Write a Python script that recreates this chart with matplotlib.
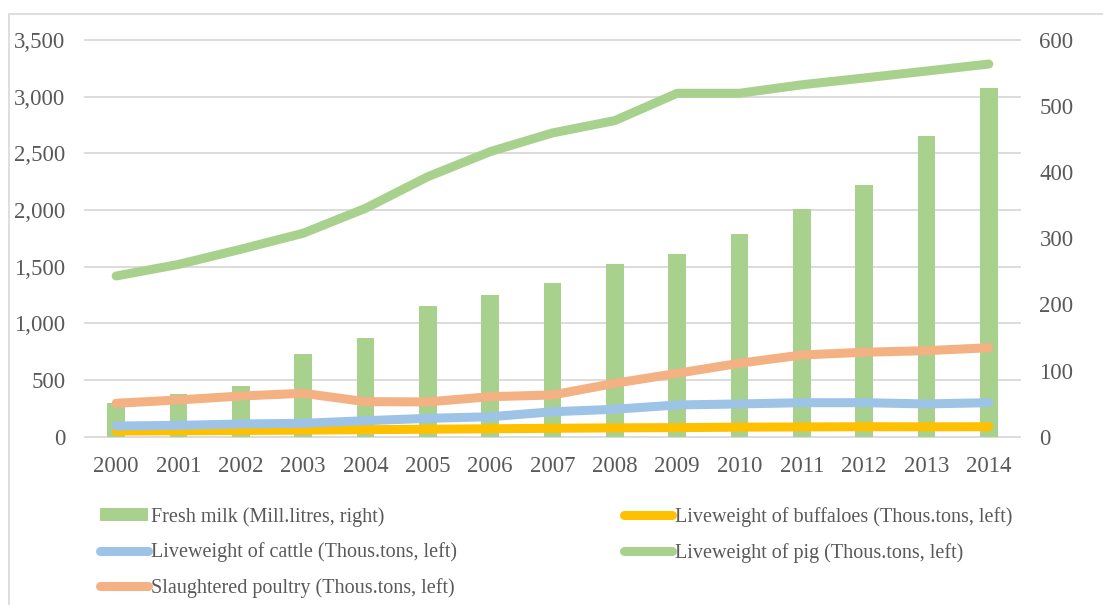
import matplotlib
matplotlib.use("Agg")
import matplotlib.pyplot as plt
from matplotlib.transforms import blended_transform_factory
from matplotlib.patches import Rectangle, Patch
from matplotlib.lines import Line2D
from matplotlib.ticker import FuncFormatter

# ---- data -------------------------------------------------------------
years = ["2000", "2001", "2002", "2003", "2004", "2005", "2006", "2007",
         "2008", "2009", "2010", "2011", "2012", "2013", "2014"]

fresh_milk = [51, 64, 77, 125, 150, 197, 215, 233, 261, 277, 306, 344, 381, 455, 527]
buffaloes = [50, 52, 55, 58, 62, 66, 70, 74, 78, 80, 84, 86, 88, 87, 88]
cattle = [94, 100, 112, 118, 141, 162, 176, 220, 242, 280, 289, 300, 300, 289, 300]
pig = [1418, 1520, 1654, 1795, 2015, 2294, 2515, 2680, 2789, 3030, 3030, 3105, 3165, 3226, 3288]
poultry = [295, 324, 359, 383, 309, 307, 353, 368, 471, 559, 648, 721, 745, 759, 785]

left_ticks = [0, 500, 1000, 1500, 2000, 2500, 3000, 3500]
right_ticks = [0, 100, 200, 300, 400, 500, 600]

labels = ["Fresh milk (Mill.litres, right)",
          "Liveweight of buffaloes (Thous.tons, left)",
          "Liveweight of cattle (Thous.tons, left)",
          "Liveweight of pig (Thous.tons, left)",
          "Slaughtered poultry (Thous.tons, left)"]

# ---- style ------------------------------------------------------------
GREEN = "#A9D18E"
YELLOW = "#FFC000"
BLUE = "#9DC3E6"
ORANGE = "#F4B183"
GRID = "#D9D9D9"
TEXT = "#595959"
FONT = "Liberation Serif"

plt.rcParams["font.family"] = [FONT, "DejaVu Serif"]
plt.rcParams["text.color"] = TEXT

fig = plt.figure(figsize=(11.03, 6.05), dpi=100)

# chart frame
fig.patches.append(Rectangle((9 / 1103, -0.1), 1.2, (605 - 14) / 605 + 0.1,
                             transform=fig.transFigure, fill=False,
                             edgecolor=GRID, linewidth=1.2))

rect = [85 / 1103, 1 - 436.7 / 605, 935 / 1103, (436.7 - 40) / 605]

# bars on the lower axes (right-hand scale)
ax_bar = fig.add_axes(rect)
# lines on the upper axes (left-hand scale)
ax_line = ax_bar.twinx()

x = list(range(len(years)))

ax_bar.bar(x, fresh_milk, width=0.28, color=GREEN, zorder=2)
ax_bar.set_ylim(0, 600)
ax_bar.set_xlim(-0.5, len(years) - 0.5)

ax_line.set_ylim(0, 3500)

# horizontal gridlines follow the left scale but sit beneath the bars
gtrans = blended_transform_factory(ax_bar.transAxes, ax_line.transData)
for v in left_ticks:
    ax_bar.plot([0, 1], [v, v], transform=gtrans, color=GRID,
                linewidth=1.3, zorder=1, clip_on=False)

lw = 6.5
line_kw = dict(linewidth=lw, solid_capstyle="round", solid_joinstyle="round")
ax_line.plot(x, buffaloes, color=YELLOW, **line_kw)
ax_line.plot(x, cattle, color=BLUE, **line_kw)
ax_line.plot(x, pig, color=GREEN, **line_kw)
ax_line.plot(x, poultry, color=ORANGE, **line_kw)

# axes cosmetics
for a in (ax_bar, ax_line):
    for s in a.spines.values():
        s.set_visible(False)
    a.tick_params(length=0, labelsize=16.5, labelcolor=TEXT, pad=14)

ax_bar.set_xticks(x)
ax_bar.set_xticklabels(years)
ax_bar.yaxis.tick_right()
ax_bar.set_yticks(right_ticks)
ax_line.yaxis.tick_left()
ax_line.set_yticks(left_ticks)
ax_line.yaxis.set_major_formatter(FuncFormatter(lambda v, p: f"{int(v):,}"))
ax_bar.tick_params(axis="x", pad=14)
ax_bar.patch.set_visible(False)

# legend: two columns laid out row by row
def handle(color, kind):
    if kind == "bar":
        return Patch(facecolor=color, edgecolor="none")
    return Line2D([], [], color=color, linewidth=lw, solid_capstyle="round")

h_milk = handle(GREEN, "bar")
h_buf = handle(YELLOW, "line")
h_cat = handle(BLUE, "line")
h_pig = handle(GREEN, "line")
h_pou = handle(ORANGE, "line")

leg_kw = dict(frameon=False, fontsize=14.5, loc="upper left", borderpad=0,
              borderaxespad=0, handlelength=2.4, handleheight=0.6,
              handletextpad=0.15, labelspacing=0.78,
              bbox_transform=fig.transFigure)
leg1 = fig.legend([h_milk, h_cat, h_pou], [labels[0], labels[2], labels[4]],
                  bbox_to_anchor=(100 / 1103, 1 - 507 / 605), **leg_kw)
leg2 = fig.legend([h_buf, h_pig], [labels[1], labels[3]],
                  bbox_to_anchor=(624 / 1103, 1 - 507 / 605), **leg_kw)
for lg in (leg1, leg2):
    for t in lg.get_texts():
        t.set_color(TEXT)

fig.savefig("out.png", dpi=100)
